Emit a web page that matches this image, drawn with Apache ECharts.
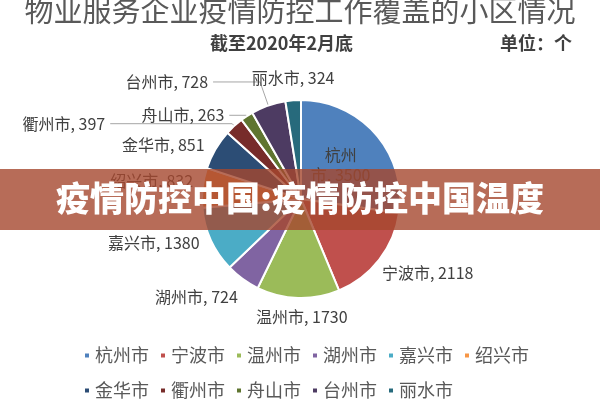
<!DOCTYPE html>
<html>
<head>
<meta charset="utf-8">
<script src="https://cdn.jsdelivr.net/npm/echarts@6/dist/echarts.min.js"></script>
<style>
html,body{margin:0;padding:0;background:#fff;}
#chart{width:600px;height:400px;}
</style>
</head>
<body>
<div id="chart"></div>
<script>
const cities = ['杭州市','宁波市','温州市','湖州市','嘉兴市','绍兴市','金华市','衢州市','舟山市','台州市','丽水市'];
const counts = [3500, 2118, 1730, 724, 1380, 832, 851, 397, 263, 728, 324];
const colors = ['#4F81BD','#C0504D','#9BBB59','#8064A2','#4BACC6','#F79646','#2C4D75','#772C2A','#5F7530','#4D3B62','#276A7C'];
const titleText = '物业服务企业疫情防控工作覆盖的小区情况';
const subtitleText = '截至2020年2月底';
const unitText = '单位：个';
const bannerText = '疫情防控中国:疫情防控中国温度';

const FONT = '"Noto Sans CJK SC", "Noto Sans", sans-serif';

// label placement tweaks per slice (style only): radial length, horizontal length, line visibility
const labelTweaks = {
  0: { label: { position: 'inside', lineHeight: 20,
        formatter: p => p.name.slice(0, 2) + '\n' + p.name.slice(2) + ', ' + p.value } },
  1: { labelLine: { length: 21, length2: -19 } },
  2: { labelLine: { length: 19, length2: -55 } },
  3: { labelLine: { length: 22, length2: -13 } },
  4: { labelLine: { length: 7, length2: 0 } },
  5: { labelLine: { length: 60, length2: -55 } },
  6: { labelLine: { length: 9, length2: -2 } },
  7: { labelLine: { show: true, length: 3, length2: 122 } },
  8: { labelLine: { show: true, length: 1, length2: 17 } },
  9: { labelLine: { show: true, length: 25, length2: 47 } },
  10: { labelLine: { length: 22, length2: -48 } }
};

const data = cities.map((c, i) => Object.assign({ name: c, value: counts[i] }, labelTweaks[i] || {}));

const chart = echarts.init(document.getElementById('chart'));
chart.setOption({
  animation: false,
  color: colors,
  title: [
    { text: titleText, left: 'center', top: -9,
      textStyle: { fontFamily: FONT, fontSize: 29, fontWeight: 'normal', color: '#595959' } },
    { text: subtitleText, left: 205, top: 29,
      textStyle: { fontFamily: FONT, fontSize: 18, fontWeight: 'bold', color: '#404040' } },
    { text: unitText, left: 495, top: 29,
      textStyle: { fontFamily: FONT, fontSize: 18, fontWeight: 'bold', color: '#404040' } }
  ],
  legend: {
    data: cities,
    left: 78, top: 338, width: 470,
    itemWidth: 6, itemHeight: 6, itemGap: 10, icon: 'rect',
    textStyle: { fontFamily: FONT, fontSize: 18, color: '#595959', lineHeight: 25 }
  },
  series: [{
    type: 'pie',
    center: [301, 199],
    radius: [0, 99],
    startAngle: 90,
    clockwise: true,
    avoidLabelOverlap: false,
    data: data,
    itemStyle: { borderColor: '#fff', borderWidth: 2 },
    label: {
      show: true,
      formatter: '{b}, {c}',
      fontFamily: FONT, fontSize: 16, color: '#404040'
    },
    labelLine: { show: false, length: 4, length2: 2, lineStyle: { color: '#A6A6A6', width: 1 } }
  }],
  graphic: [
    { type: 'rect', left: 0, top: 169, z: 100,
      shape: { width: 600, height: 61 },
      style: { fill: 'rgba(165,71,46,0.8)' } },
    { type: 'text', left: 'center', top: 181, z: 101,
      style: { text: bannerText, fill: '#fff', font: '900 34px "Noto Sans CJK SC", sans-serif' } }
  ]
});
</script>
</body>
</html>
